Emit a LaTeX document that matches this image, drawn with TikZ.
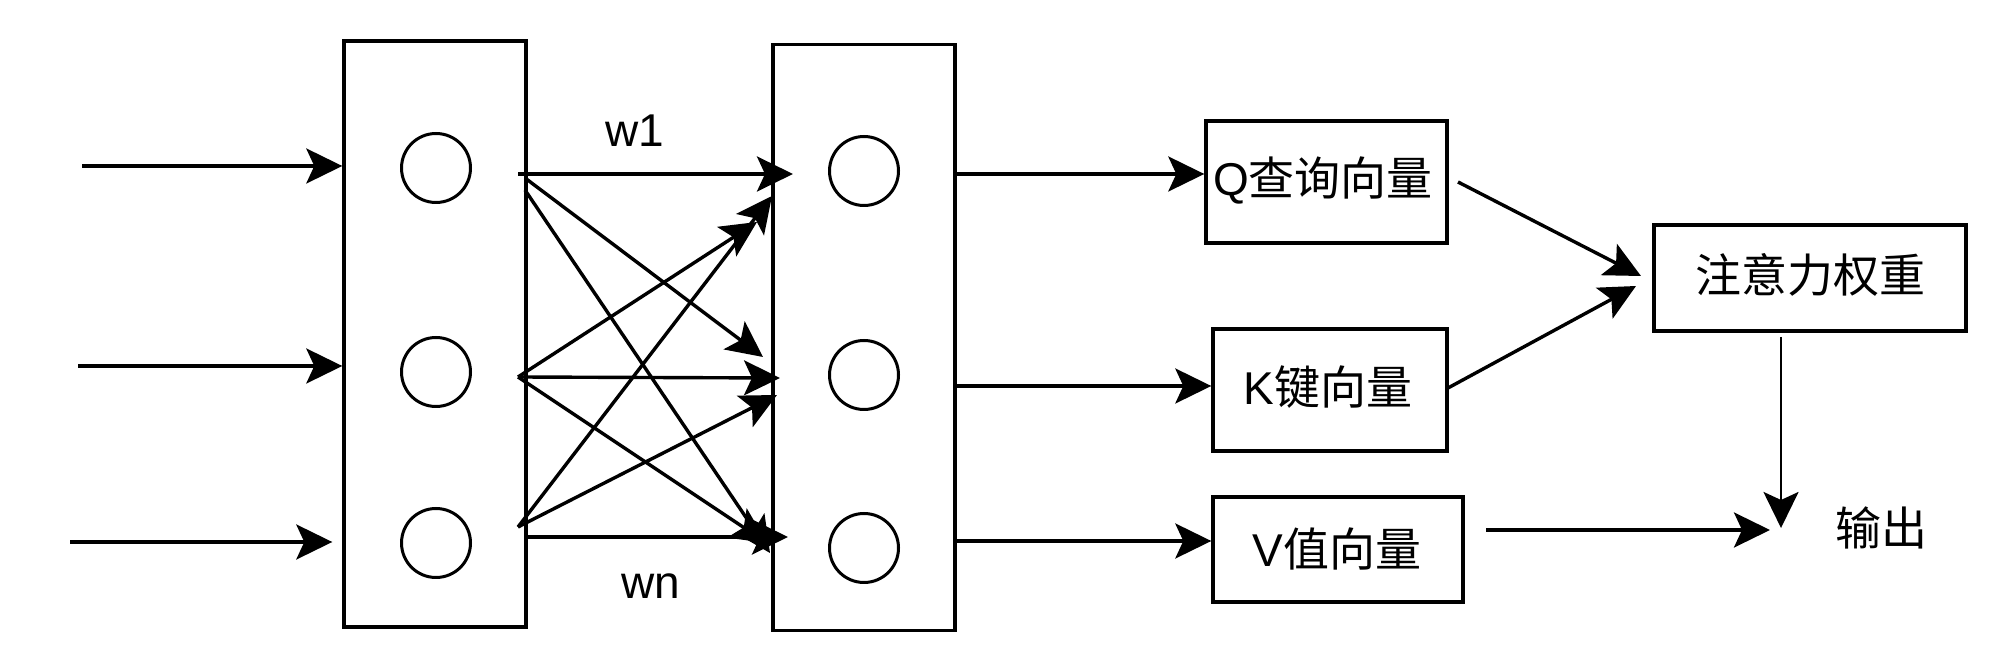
\documentclass[tikz,border=0pt]{standalone}
\usepackage{fontspec}
\setmainfont{Liberation Sans}
\newfontfamily\cjk{Noto Sans CJK SC}
\usetikzlibrary{arrows.meta}
\begin{document}
\begin{tikzpicture}[x=0.5pt,y=-0.5pt,
  line width=1.7pt,
  arr/.style={-{Stealth[length=18pt,width=17.5pt,inset=4pt]}},
  layer/.style={draw,rectangle,inner sep=0pt,minimum width=91pt,minimum height=293pt},
  neuron/.style={draw,circle,inner sep=0pt,minimum size=34.5pt,line width=1.5pt},
  box/.style={draw,rectangle,inner sep=0pt},
  lbl/.style={inner sep=0pt,font=\fontsize{23}{27}\selectfont}]
\useasboundingbox (0,0) rectangle (2008,672);
% layers
\node[layer] (L1) at (435,334) {};
\node[layer] (L2) at (864,337.5) {};
\node[neuron] (a1) at (436,168) {};
\node[neuron] (a2) at (436,372) {};
\node[neuron] (a3) at (436,543) {};
\node[neuron] (b1) at (864,171) {};
\node[neuron] (b2) at (864,375) {};
\node[neuron] (b3) at (864,548) {};
% inputs
\coordinate (in1) at (82,166);
\coordinate (in2) at (78,366);
\coordinate (in3) at (70,542);
\draw[arr] (in1) -- (in1 -| L1.west);
\draw[arr] (in2) -- (in2 -| L1.west);
\draw[arr,shorten >=5pt] (in3) -- (in3 -| L1.west);
% sources and targets of weights
\coordinate (s1) at (518,174);
\coordinate (s1b) at (525,178);
\coordinate (s1c) at (525,190);
\coordinate (s2) at (518,377);
\coordinate (s3) at (518,527);
\coordinate (s3h) at (525,537);
\coordinate (t11) at (793,174);
\coordinate (t21) at (757,222);
\coordinate (t31) at (772,196);
\coordinate (t12) at (763,357);
\coordinate (t22) at (780,378);
\coordinate (t32) at (777,395);
\coordinate (t13) at (770,553);
\coordinate (t23) at (767,543);
\coordinate (t33) at (788,537);
\draw[arr] (s1) -- (t11);
\draw[arr] (s1b) -- (t12);
\draw[arr] (s1c) -- (t13);
\draw[arr] (s2) -- (t21);
\draw[arr] (s2) -- (t22);
\draw[arr] (s2) -- (t23);
\draw[arr] (s3) -- (t31);
\draw[arr] (s3) -- (t32);
\draw[arr] (s3h) -- (t33);
\node[lbl] (w1) at (635,131) {w1};
\node[lbl] (wn) at (651,586) {wn};
% Q K V
\node[box,minimum width=120.5pt,minimum height=61pt] (Q) at (1326.5,182) {};
\node[box,minimum width=117pt,minimum height=61pt] (K) at (1330,390) {};
\node[box,minimum width=125pt,minimum height=52.5pt] (V) at (1338,549.5) {};
\node[box,minimum width=156pt,minimum height=53pt] (A) at (1810,278) {};
\node[lbl] (Qt) at (1323,180) {Q{\cjk 查询向量}};
\node[lbl] (Kt) at (1328,387) {K{\cjk 键向量}};
\node[lbl] (Vt) at (1337,549) {V{\cjk 值向量}};
\node[lbl] (At) at (1810,275) {\cjk 注意力权重};
\node[lbl] (out) at (1881,528) {\cjk 输出};
\coordinate (o1) at (955,174);
\coordinate (o2) at (955,386);
\coordinate (o3) at (955,541);
\draw[arr] (o1) -- (o1 -| Q.west);
\draw[arr] (o2) -- (o2 -| K.west);
\draw[arr] (o3) -- (o3 -| V.west);
\coordinate (qs) at (1458,182);
\coordinate (qe) at (1641,276);
\coordinate (ks) at (1448,388);
\coordinate (ke) at (1636,286);
\draw[arr] (qs) -- (qe);
\draw[arr] (ks) -- (ke);
\coordinate (as) at (1781,337);
\coordinate (ae) at (1781,528);
\coordinate (vs) at (1486,530);
\coordinate (ve) at (1770,530);
\draw[arr,line width=1.4pt] (as) -- (ae);
\draw[arr] (vs) -- (ve);
\end{tikzpicture}
\end{document}
